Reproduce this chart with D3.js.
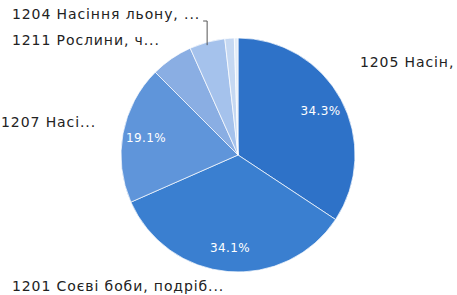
<!DOCTYPE html>
<html>
<head>
<meta charset="utf-8">
<script src="https://cdn.jsdelivr.net/npm/d3@7"></script>
<style>
  body { margin: 0; background: #fff; }
  text { font-family: "DejaVu Sans", sans-serif; }
</style>
</head>
<body>
<svg id="pie"></svg>
<script>
// slices, clockwise from 12 o'clock
const codes = ["1205", "1201", "1207", "1211", "1204", "other1", "other2"];
const names = ["1205 Насін,", "1201 Соєві боби, подріб...", "1207 Насі...", "1211 Рослини, ч...", "1204 Насіння льону, ...", "", ""];
const shares = [34.3, 34.1, 19.1, 5.8, 4.9, 1.3, 0.5];
const colors = ["#2e72c8", "#3a7fd0", "#5f95da", "#8aaee3", "#a5c2ec", "#c5d8f2", "#e2ecf8"];

const width = 457, height = 295;
const cx = 238, cy = 155, radius = 117;

// where the outside labels sit (layout only)
const labelPos = [
  {x: 360, y: 67, anchor: "start"},
  {x: 12, y: 291, anchor: "start"},
  {x: 96, y: 127, anchor: "end"},
  {x: 12, y: 45, anchor: "start"},
  {x: 12, y: 19, anchor: "start"},
  null, null
];

const svg = d3.select("#pie")
  .attr("width", width)
  .attr("height", height);

const g = svg.append("g")
  .attr("transform", "translate(" + cx + "," + cy + ")");

const pie = d3.pie().sort(null).value(d => d);
const arcs = pie(shares);

const arc = d3.arc().innerRadius(0).outerRadius(radius);
const labelArc = d3.arc().innerRadius(radius * 0.8).outerRadius(radius * 0.8);

g.selectAll("path.slice")
  .data(arcs)
  .enter()
  .append("path")
  .attr("class", "slice")
  .attr("d", arc)
  .attr("fill", (d, i) => colors[i])
  .attr("stroke", "#ffffff")
  .attr("stroke-opacity", 0.7)
  .attr("stroke-width", 1);

// percentages inside the big slices
g.selectAll("text.pct")
  .data(arcs.filter(d => d.value > 10))
  .enter()
  .append("text")
  .attr("class", "pct")
  .attr("transform", d => "translate(" + labelArc.centroid(d) + ")")
  .attr("text-anchor", "middle")
  .attr("dy", "0.35em")
  .attr("fill", "#ffffff")
  .style("font-size", "12px")
  .style("letter-spacing", "0.4px")
  .text(d => d.value.toFixed(1) + "%");

// outside labels
names.forEach((n, i) => {
  if (!n) return;
  const p = labelPos[i];
  svg.append("text")
    .attr("x", p.x)
    .attr("y", p.y)
    .attr("text-anchor", p.anchor)
    .attr("fill", "#222222")
    .style("font-size", "14px")
    .style("letter-spacing", "0.9px")
    .text(n);
});

// leader for the small 1204 slice
const a4 = arcs[4];
const mid4 = (a4.startAngle + a4.endAngle) / 2;
const ex = radius * Math.sin(mid4), ey = -radius * Math.cos(mid4);
g.append("path")
  .attr("d", d3.line()([[ex - 4, -cy + 21], [ex, -cy + 21], [ex, ey + 3]]))
  .attr("fill", "none")
  .attr("stroke", "#555555")
  .attr("stroke-width", 1);
</script>
</body>
</html>
